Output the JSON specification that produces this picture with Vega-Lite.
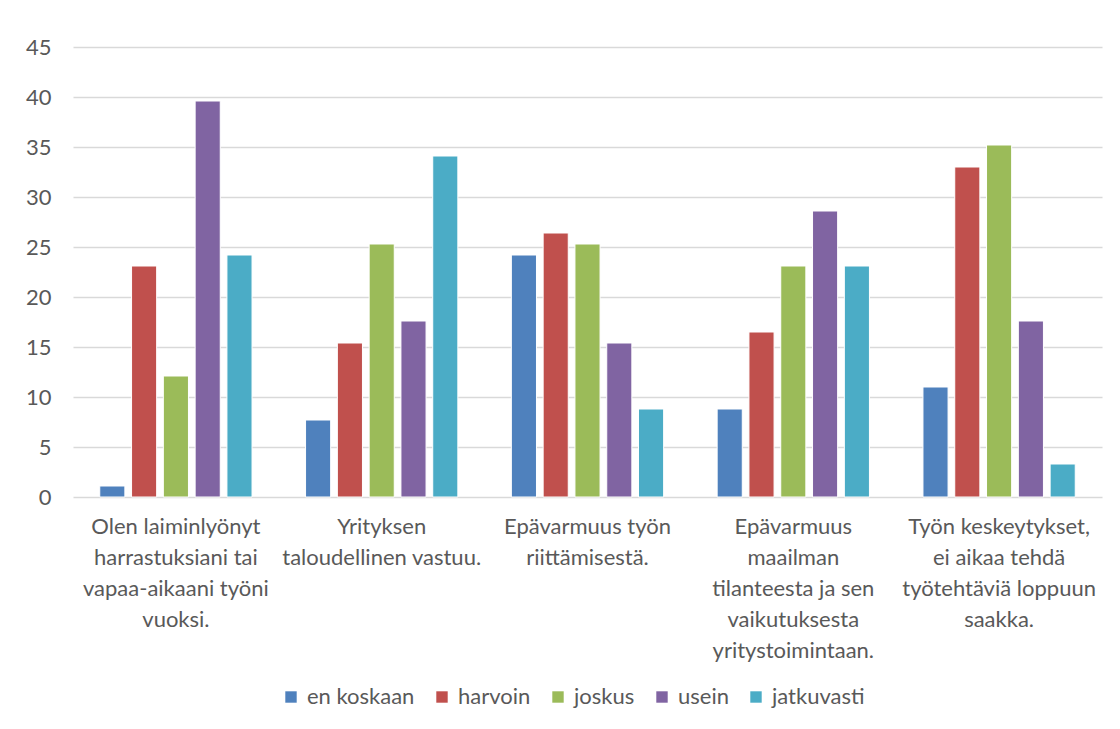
{
  "$schema": "https://vega.github.io/schema/vega-lite/v6.json",
  "width": 1029,
  "height": 450,
  "autosize": {"type": "none"},
  "padding": {"left": 73, "top": 47, "right": 18, "bottom": 232},
  "background": "white",
  "config": {
    "font": "Lato",
    "view": {"stroke": null},
    "axis": {"labelColor": "#595959", "labelFont": "Lato", "labelFontSize": 22}
  },
  "data": {
    "values": [
      {"cat": "Olen laiminlyönyt\nharrastuksiani tai\nvapaa-aikaani työni\nvuoksi.", "series": "en koskaan", "value": 1.1},
      {"cat": "Olen laiminlyönyt\nharrastuksiani tai\nvapaa-aikaani työni\nvuoksi.", "series": "harvoin", "value": 23.1},
      {"cat": "Olen laiminlyönyt\nharrastuksiani tai\nvapaa-aikaani työni\nvuoksi.", "series": "joskus", "value": 12.1},
      {"cat": "Olen laiminlyönyt\nharrastuksiani tai\nvapaa-aikaani työni\nvuoksi.", "series": "usein", "value": 39.6},
      {"cat": "Olen laiminlyönyt\nharrastuksiani tai\nvapaa-aikaani työni\nvuoksi.", "series": "jatkuvasti", "value": 24.2},
      {"cat": "Yrityksen\ntaloudellinen vastuu.", "series": "en koskaan", "value": 7.7},
      {"cat": "Yrityksen\ntaloudellinen vastuu.", "series": "harvoin", "value": 15.4},
      {"cat": "Yrityksen\ntaloudellinen vastuu.", "series": "joskus", "value": 25.3},
      {"cat": "Yrityksen\ntaloudellinen vastuu.", "series": "usein", "value": 17.6},
      {"cat": "Yrityksen\ntaloudellinen vastuu.", "series": "jatkuvasti", "value": 34.1},
      {"cat": "Epävarmuus työn\nriittämisestä.", "series": "en koskaan", "value": 24.2},
      {"cat": "Epävarmuus työn\nriittämisestä.", "series": "harvoin", "value": 26.4},
      {"cat": "Epävarmuus työn\nriittämisestä.", "series": "joskus", "value": 25.3},
      {"cat": "Epävarmuus työn\nriittämisestä.", "series": "usein", "value": 15.4},
      {"cat": "Epävarmuus työn\nriittämisestä.", "series": "jatkuvasti", "value": 8.8},
      {"cat": "Epävarmuus\nmaailman\ntilanteesta ja sen\nvaikutuksesta\nyritystoimintaan.", "series": "en koskaan", "value": 8.8},
      {"cat": "Epävarmuus\nmaailman\ntilanteesta ja sen\nvaikutuksesta\nyritystoimintaan.", "series": "harvoin", "value": 16.5},
      {"cat": "Epävarmuus\nmaailman\ntilanteesta ja sen\nvaikutuksesta\nyritystoimintaan.", "series": "joskus", "value": 23.1},
      {"cat": "Epävarmuus\nmaailman\ntilanteesta ja sen\nvaikutuksesta\nyritystoimintaan.", "series": "usein", "value": 28.6},
      {"cat": "Epävarmuus\nmaailman\ntilanteesta ja sen\nvaikutuksesta\nyritystoimintaan.", "series": "jatkuvasti", "value": 23.1},
      {"cat": "Työn keskeytykset,\nei aikaa tehdä\ntyötehtäviä loppuun\nsaakka.", "series": "en koskaan", "value": 11.0},
      {"cat": "Työn keskeytykset,\nei aikaa tehdä\ntyötehtäviä loppuun\nsaakka.", "series": "harvoin", "value": 33.0},
      {"cat": "Työn keskeytykset,\nei aikaa tehdä\ntyötehtäviä loppuun\nsaakka.", "series": "joskus", "value": 35.2},
      {"cat": "Työn keskeytykset,\nei aikaa tehdä\ntyötehtäviä loppuun\nsaakka.", "series": "usein", "value": 17.6},
      {"cat": "Työn keskeytykset,\nei aikaa tehdä\ntyötehtäviä loppuun\nsaakka.", "series": "jatkuvasti", "value": 3.3}
    ]
  },
  "mark": {"type": "bar", "stroke": "white", "strokeWidth": 1},
  "encoding": {
    "x": {
      "field": "cat",
      "type": "nominal",
      "sort": null,
      "title": null,
      "scale": {"paddingInner": 0.26, "paddingOuter": 0.13},
      "axis": {
        "labelAngle": 0,
        "domain": false,
        "ticks": false,
        "labelPadding": 19,
        "labelExpr": "split(datum.label, '\\n')",
        "labelLineHeight": 31,
        "labelLimit": 300
      }
    },
    "xOffset": {
      "field": "series",
      "type": "nominal",
      "sort": ["en koskaan", "harvoin", "joskus", "usein", "jatkuvasti"],
      "scale": {"paddingInner": 0.21, "paddingOuter": 0}
    },
    "y": {
      "field": "value",
      "type": "quantitative",
      "title": null,
      "scale": {"domain": [0, 45]},
      "axis": {
        "values": [0, 5, 10, 15, 20, 25, 30, 35, 40, 45],
        "domain": false,
        "ticks": false,
        "labelPadding": 22,
        "gridColor": "#D9D9D9",
        "gridWidth": 1.5
      }
    },
    "color": {
      "field": "series",
      "type": "nominal",
      "sort": ["en koskaan", "harvoin", "joskus", "usein", "jatkuvasti"],
      "scale": {
        "domain": ["en koskaan", "harvoin", "joskus", "usein", "jatkuvasti"],
        "range": ["#4F81BD", "#C0504D", "#9BBB59", "#8064A2", "#4BACC6"]
      },
      "legend": {
        "title": null,
        "orient": "none",
        "direction": "horizontal",
        "legendX": 207,
        "legendY": 639,
        "symbolType": "square",
        "symbolSize": 130,
        "symbolStrokeWidth": 0,
        "labelFontSize": 22,
        "labelColor": "#595959",
        "labelFont": "Lato",
        "labelOffset": 5,
        "columnPadding": 16
      }
    }
  }
}
